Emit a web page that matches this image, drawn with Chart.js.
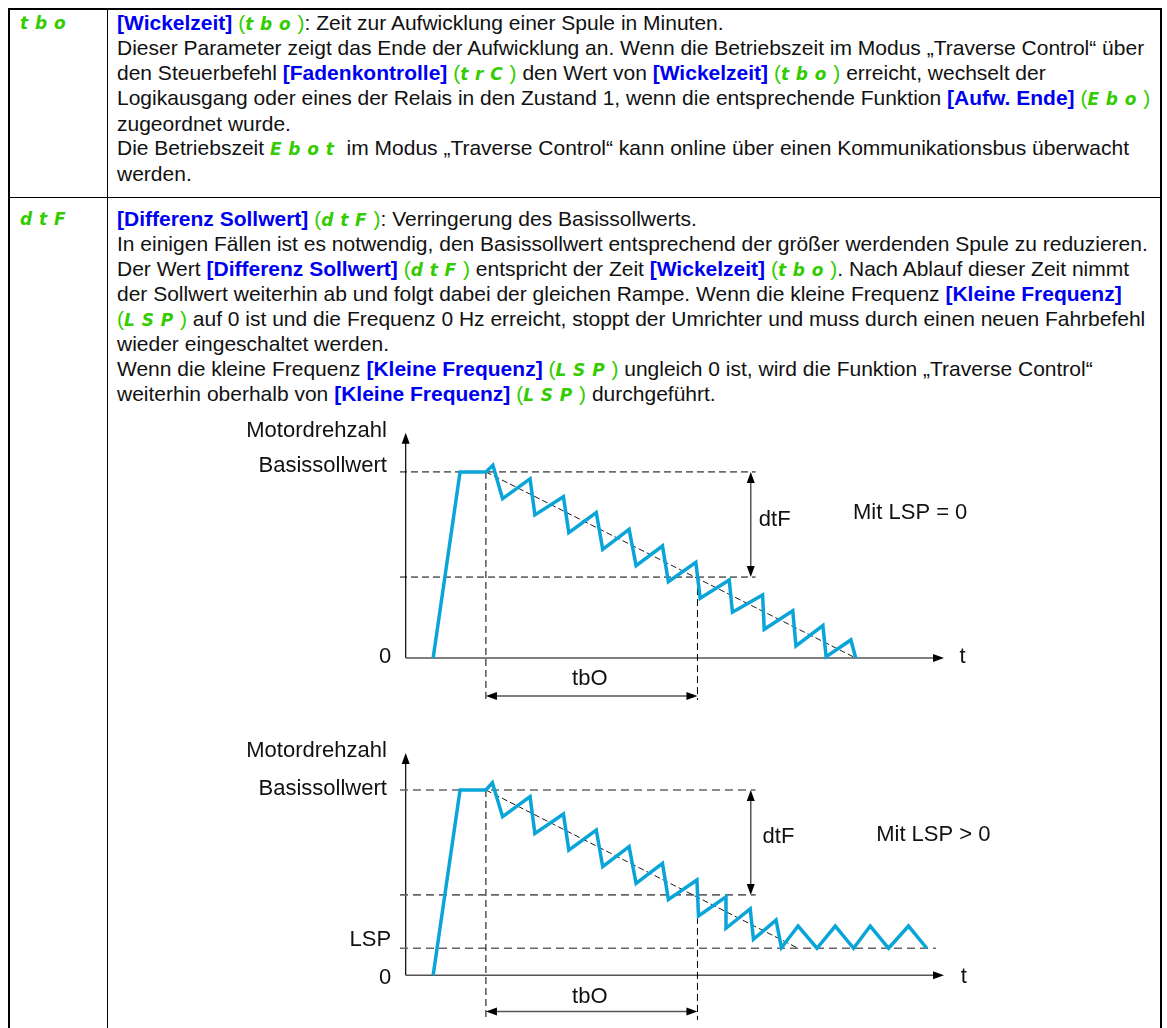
<!DOCTYPE html>
<html>
<head>
<meta charset="utf-8">
<script src="https://cdn.jsdelivr.net/npm/chart.js@4.4.1/dist/chart.umd.min.js"></script>
<style>
  html, body { margin: 0; padding: 0; background: #fff; }
  body { width: 1167px; height: 1028px; position: relative; overflow: hidden;
         font-family: "Liberation Sans", Arial, sans-serif; }
  .ln { position: absolute; background: #000; }
  .txt { position: absolute; left: 117px; font-size: 21px; line-height: 24.5px;
         white-space: nowrap; color: #111; }
  .code { position: absolute; left: 20px; line-height: 24.5px; }
  .k { color: #0000f0; font-weight: bold; }
  .g { color: #33cc00; }
  .c { color: #33cc00; font-family: "DejaVu Sans", sans-serif; font-style: italic; font-weight: bold;
       font-size: 17px; letter-spacing: 0.4em; }
  canvas { position: absolute; }
</style>
</head>
<body>

<!-- table frame -->
<div class="ln" style="left:8px;top:8px;width:1153px;height:1.5px"></div>
<div class="ln" style="left:8px;top:197px;width:1153px;height:1px"></div>
<div class="ln" style="left:8px;top:8px;width:1.5px;height:1020px"></div>
<div class="ln" style="left:107px;top:8px;width:1px;height:1020px"></div>
<div class="ln" style="left:1160px;top:8px;width:1.5px;height:1020px"></div>

<div class="code" style="top:10.75px"><span class="c">tbo</span></div>
<div class="txt" style="top:10.75px">
<span class="k">[Wickelzeit]</span> <span class="g">(<span class="c">tbo</span>)</span>: Zeit zur Aufwicklung einer Spule in Minuten.<br>
Dieser Parameter zeigt das Ende der Aufwicklung an. Wenn die Betriebszeit im Modus „Traverse Control“ über<br>
den Steuerbefehl <span class="k">[Fadenkontrolle]</span> <span class="g">(<span class="c">trC</span>)</span> den Wert von <span class="k">[Wickelzeit]</span> <span class="g">(<span class="c">tbo</span>)</span> erreicht, wechselt der<br>
Logikausgang oder eines der Relais in den Zustand 1, wenn die entsprechende Funktion <span class="k">[Aufw. Ende]</span> <span class="g">(<span class="c">Ebo</span>)</span><br>
zugeordnet wurde.<br>
Die Betriebszeit <span class="c">Ebot</span> im Modus „Traverse Control“ kann online über einen Kommunikationsbus überwacht<br>
werden.
</div>

<div class="code" style="top:206.75px"><span class="c">dtF</span></div>
<div class="txt" style="top:206.75px">
<span class="k">[Differenz Sollwert]</span> <span class="g">(<span class="c">dtF</span>)</span>: Verringerung des Basissollwerts.<br>
In einigen Fällen ist es notwendig, den Basissollwert entsprechend der größer werdenden Spule zu reduzieren.<br>
Der Wert <span class="k">[Differenz Sollwert]</span> <span class="g">(<span class="c">dtF</span>)</span> entspricht der Zeit <span class="k">[Wickelzeit]</span> <span class="g">(<span class="c">tbo</span>)</span>. Nach Ablauf dieser Zeit nimmt<br>
der Sollwert weiterhin ab und folgt dabei der gleichen Rampe. Wenn die kleine Frequenz <span class="k">[Kleine Frequenz]</span><br>
<span class="g">(<span class="c">LSP</span>)</span> auf 0 ist und die Frequenz 0 Hz erreicht, stoppt der Umrichter und muss durch einen neuen Fahrbefehl<br>
wieder eingeschaltet werden.<br>
Wenn die kleine Frequenz <span class="k">[Kleine Frequenz]</span> <span class="g">(<span class="c">LSP</span>)</span> ungleich 0 ist, wird die Funktion „Traverse Control“<br>
weiterhin oberhalb von <span class="k">[Kleine Frequenz]</span> <span class="g">(<span class="c">LSP</span>)</span> durchgeführt.
</div>

<canvas id="diag1" width="780" height="295" style="left:230px;top:415px"></canvas>
<canvas id="diag2" width="780" height="293" style="left:230px;top:735px"></canvas>

<script>
// x = % of time axis length, y = % of Basissollwert
const curve1X = [5.1, 10.1, 14.9, 16.2, 18.0, 23.1, 24.0, 29.3, 30.3, 35.4, 36.6, 41.5, 42.8, 47.7, 48.8,
                 53.9, 54.7, 60.1, 60.7, 66.3, 66.6, 71.9, 72.5, 77.5, 78.1, 82.7, 83.6];
const curve1Y = [0, 100, 100, 103.6, 85.6, 96.3, 76.9, 86.7, 67.4, 78.1, 58.4, 69.2, 49.6, 60.2, 41.0,
                 51.4, 32.1, 41.9, 24.6, 33.9, 15.4, 25.4, 6.5, 17.4, 0.7, 9.7, 0];

const curve2X = [5.1, 10.1, 14.9, 16.1, 18.0, 23.1, 24.0, 29.3, 30.3, 35.4, 36.6, 41.5, 42.8, 47.7, 48.8,
                 54.1, 54.4, 59.5, 59.5, 64.0, 64.6, 68.8, 69.8, 72.9, 76.4, 79.8, 83.2, 86.3, 89.7, 93.4, 96.8];
const curve2Y = [0, 100, 100, 103.9, 85.6, 96.4, 76.6, 87.0, 67.6, 78.4, 58.6, 69.4, 49.6, 60.4, 40.9,
                 51.4, 32.0, 42.4, 25.4, 35.8, 19.4, 29.8, 14.9, 26.6, 14.6, 26.6, 14.6, 26.6, 14.6, 26.6, 14.6];

const baseLevel = 100;
const dtfLevels = [43.5, 43.4];     // end of dtF, chart 1 / chart 2
const lspLevel = 14.6;
const tboStart = 14.9;
const tboEnd = 54.2;
const rampEnd1 = [83.6, 0];
const rampEnd2 = [72.9, 14.6];

const BLUE = '#0aa5d8';
const FONT = '22px "Liberation Sans", Arial, sans-serif';

function pts(xs, ys) {
  return xs.map((x, i) => ({ x: x, y: ys[i] }));
}

function arrowHead(ctx, x, y, ang) {
  const len = 11, half = 4;
  ctx.save();
  ctx.translate(x, y);
  ctx.rotate(ang);
  ctx.beginPath();
  ctx.moveTo(0, 0);
  ctx.lineTo(-len, -half);
  ctx.lineTo(-len, half);
  ctx.closePath();
  ctx.fillStyle = '#000';
  ctx.fill();
  ctx.restore();
}

// axes, arrows and labels drawn on top of the library scales
function diagramPlugin(cfg) {
  return {
    id: 'diagram',
    beforeDatasetsDraw(chart) {
      const ctx = chart.ctx, xs = chart.scales.x, ys = chart.scales.y;
      const x0 = xs.getPixelForValue(0), y0 = ys.getPixelForValue(0);
      ctx.save();
      // y axis
      ctx.strokeStyle = '#000';
      ctx.lineWidth = 1.2;
      ctx.beginPath();
      ctx.moveTo(x0, y0);
      ctx.lineTo(x0, ys.getPixelForValue(cfg.yTip) + 6);
      ctx.stroke();
      arrowHead(ctx, x0, ys.getPixelForValue(cfg.yTip), -Math.PI / 2);
      // x axis
      ctx.strokeStyle = '#555';
      ctx.lineWidth = 1.6;
      ctx.beginPath();
      ctx.moveTo(x0, y0);
      ctx.lineTo(xs.getPixelForValue(100) - 6, y0);
      ctx.stroke();
      arrowHead(ctx, xs.getPixelForValue(100), y0, 0);
      ctx.restore();
    },
    afterDatasetsDraw(chart) {
      const ctx = chart.ctx, xs = chart.scales.x, ys = chart.scales.y;
      ctx.save();
      // tbO arrow
      const ya = ys.getPixelForValue(cfg.tboY);
      const xa = xs.getPixelForValue(tboStart), xb = xs.getPixelForValue(tboEnd);
      ctx.strokeStyle = '#555';
      ctx.lineWidth = 1.5;
      ctx.beginPath();
      ctx.moveTo(xa + 6, ya);
      ctx.lineTo(xb - 6, ya);
      ctx.stroke();
      arrowHead(ctx, xa, ya, Math.PI);
      arrowHead(ctx, xb, ya, 0);
      // dtF arrow
      const xd = xs.getPixelForValue(cfg.dtfX);
      const yt = ys.getPixelForValue(baseLevel), yb = ys.getPixelForValue(cfg.dtfLevel);
      ctx.beginPath();
      ctx.moveTo(xd, yt + 6);
      ctx.lineTo(xd, yb - 6);
      ctx.stroke();
      arrowHead(ctx, xd, yt, -Math.PI / 2);
      arrowHead(ctx, xd, yb, Math.PI / 2);
      // labels
      ctx.font = FONT;
      ctx.fillStyle = '#111';
      ctx.textBaseline = 'middle';
      cfg.labels.forEach(l => {
        ctx.textAlign = l.align;
        ctx.fillText(l.text, xs.getPixelForValue(l.x), ys.getPixelForValue(l.y));
      });
      ctx.restore();
    }
  };
}

function dashed(data, color, width, dash) {
  return { data: data, borderColor: color, borderWidth: width, borderDash: dash,
           showLine: true, pointRadius: 0, fill: false };
}

function makeDiagram(id, cfg) {
  const datasets = [
    { data: pts(cfg.curveX, cfg.curveY), borderColor: BLUE, borderWidth: 3.5,
      borderJoinStyle: 'miter', showLine: true, pointRadius: 0, fill: false },
    dashed([{ x: tboStart, y: baseLevel }, { x: cfg.rampEnd[0], y: cfg.rampEnd[1] }], '#000', 0.9, [6, 3]),
    dashed([{ x: -1.06, y: baseLevel }, { x: 65, y: baseLevel }], cfg.hColor, cfg.hWidth, cfg.hDash),
    dashed([{ x: -1.06, y: cfg.dtfLevel }, { x: 65, y: cfg.dtfLevel }], cfg.hColor, cfg.hWidth, cfg.hDash),
    dashed([{ x: tboStart, y: baseLevel }, { x: tboStart, y: cfg.vBottom }], '#000', 1, [7, 4]),
    dashed([{ x: tboEnd, y: cfg.dtfLevel }, { x: tboEnd, y: cfg.vBottom }], '#000', 1, [7, 4])
  ];
  if (cfg.lsp) {
    datasets.push(dashed([{ x: -1.06, y: lspLevel }, { x: 98.5, y: lspLevel }], cfg.hColor, cfg.hWidth, cfg.hDash));
  }
  return new Chart(document.getElementById(id).getContext('2d'), {
    type: 'scatter',
    data: { datasets: datasets },
    options: {
      responsive: false,
      devicePixelRatio: 1,
      animation: false,
      layout: { padding: 0 },
      plugins: { legend: { display: false }, tooltip: { enabled: false } },
      scales: {
        x: { type: 'linear', display: false, min: cfg.xMin, max: cfg.xMax },
        y: { type: 'linear', display: false, min: cfg.yMin, max: cfg.yMax }
      }
    },
    plugins: [diagramPlugin(cfg)]
  });
}

makeDiagram('diag1', {
  curveX: curve1X, curveY: curve1Y, rampEnd: rampEnd1, dtfLevel: dtfLevels[0],
  xMin: -32.64, xMax: 112.26, yMin: -27.96, yMax: 130.6,
  hColor: '#000', hWidth: 1, hDash: [7, 4], vBottom: -22.6,
  yTip: 121, tboY: -20.4, dtfX: 64.1, lsp: false,
  labels: [
    { text: 'Motordrehzahl', x: -3.5, y: 122.2, align: 'right' },
    { text: 'Basissollwert', x: -3.5, y: 103, align: 'right' },
    { text: '0', x: -2.7, y: 0.7, align: 'right' },
    { text: 'tbO', x: 34.2, y: -11.5, align: 'center' },
    { text: 'dtF', x: 65.6, y: 74.2, align: 'left' },
    { text: 'Mit LSP = 0', x: 83.1, y: 77.8, align: 'left' },
    { text: 't', x: 102.9, y: 0.8, align: 'left' }
  ]
});

makeDiagram('diag2', {
  curveX: curve2X, curveY: curve2Y, rampEnd: rampEnd2, dtfLevel: dtfLevels[1],
  xMin: -32.64, xMax: 112.26, yMin: -28.44, yMax: 129.7,
  hColor: '#666', hWidth: 1.6, hDash: [8, 5], vBottom: -24.1,
  yTip: 120, tboY: -19.6, dtfX: 64.1, lsp: true,
  labels: [
    { text: 'Motordrehzahl', x: -3.5, y: 121, align: 'right' },
    { text: 'Basissollwert', x: -3.5, y: 100.5, align: 'right' },
    { text: 'LSP', x: -2.7, y: 19, align: 'right' },
    { text: '0', x: -2.7, y: -1.6, align: 'right' },
    { text: 'tbO', x: 34.2, y: -11.5, align: 'center' },
    { text: 'dtF', x: 66.3, y: 74.5, align: 'left' },
    { text: 'Mit LSP > 0', x: 87.4, y: 75.7, align: 'left' },
    { text: 't', x: 103.1, y: -0.8, align: 'left' }
  ]
});
</script>
</body>
</html>
